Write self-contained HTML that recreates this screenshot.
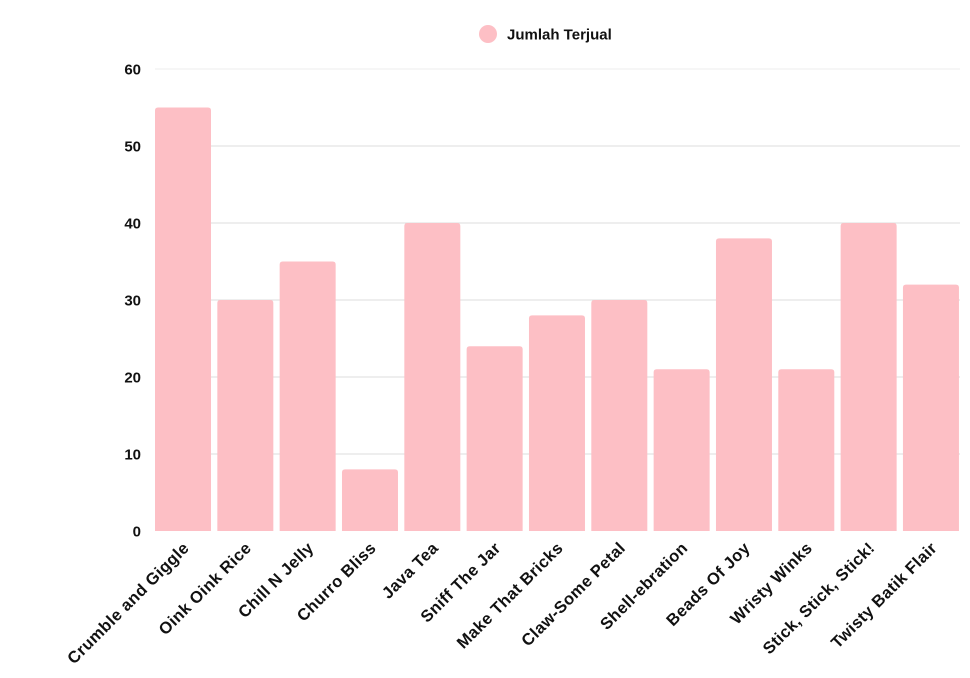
<!DOCTYPE html>
<html><head><meta charset="utf-8"><style>
html,body{margin:0;padding:0;background:#fff;}
svg{display:block;font-family:"Liberation Sans",sans-serif;font-weight:bold;}
</style></head><body>
<svg id="chart" width="970" height="678" viewBox="0 0 970 678" xmlns="http://www.w3.org/2000/svg">
<g>
<circle cx="488" cy="34" r="9" fill="#fdbfc5"/>
<text x="507" y="39.5" font-size="15" fill="#111">Jumlah Terjual</text>
</g>
<g id="grid"></g><g id="bars"></g><g id="ylabels"></g><g id="xlabels"></g>
</svg>
<script>
const categories = ["Crumble and Giggle","Oink Oink Rice","Chill N Jelly","Churro Bliss","Java Tea","Sniff The Jar","Make That Bricks","Claw-Some Petal","Shell-ebration","Beads Of Joy","Wristy Winks","Stick, Stick, Stick!","Twisty Batik Flair"];
const values = [55,30,35,8,40,24,28,30,21,38,21,40,32];
const yTicks = [0,10,20,30,40,50,60];

const NS="http://www.w3.org/2000/svg";
const x0=155,y0=531,yTop=69,yMax=60;
const band=62.33;
const x1=960;
const y=v=>y0-(v/yMax)*(y0-yTop);
const bw=56;
const bx=i=>x0+i*band;
function mk(t,a,p){const e=document.createElementNS(NS,t);for(const k in a)e.setAttribute(k,a[k]);document.getElementById(p).appendChild(e);return e;}
yTicks.forEach(t=>{
  if(t>0){const l=mk('line',{x1:x0,x2:x1,y1:y(t),y2:y(t),stroke:t===60?'#eee':'#ddd','stroke-width':1},'grid');
  
  }
  const tx=mk('text',{x:141,y:y(t)+5.5,'text-anchor':'end','font-size':15,fill:'#111'},'ylabels');
  tx.textContent=t;
  
  
});
values.forEach((v,i)=>{
  const r=3,xx=bx(i),yy=y(v);
  const p=mk('path',{d:`M${xx},${y0}V${yy+r}Q${xx},${yy} ${xx+r},${yy}H${xx+bw-r}Q${xx+bw},${yy} ${xx+bw},${yy+r}V${y0}Z`,fill:'#fdbfc5'},'bars');
  
  
  const cx=xx+bw/2+7;
  const t=mk('text',{x:cx,y:549,'text-anchor':'end','font-size':16.5,'letter-spacing':0.4,fill:'#111',transform:`rotate(-45 ${cx} 549)`},'xlabels');
  t.textContent=categories[i];
  
  
});
</script>
</body></html>
